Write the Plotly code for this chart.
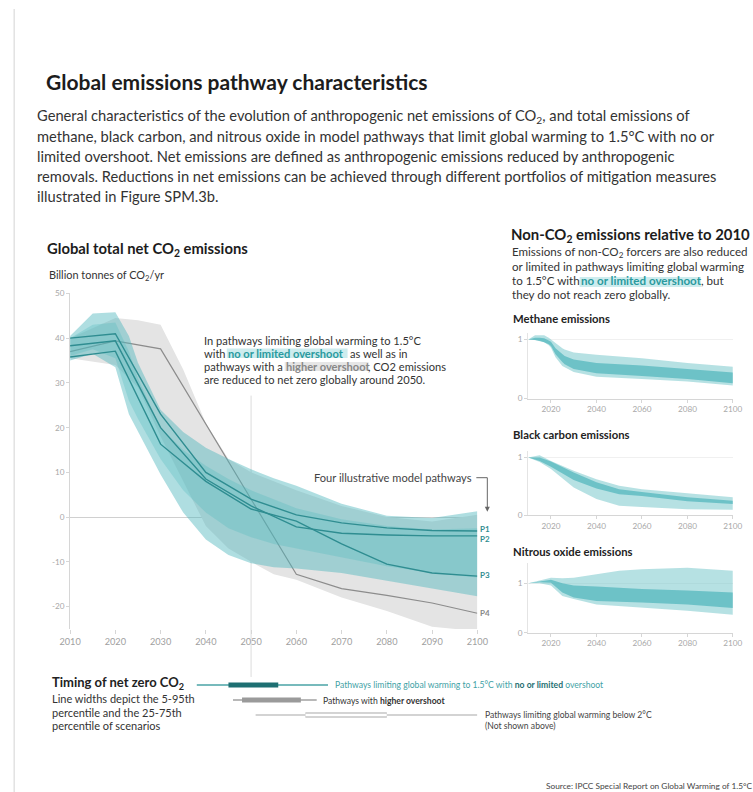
import plotly.graph_objects as go

# Layout is specified in page pixels; the page shows the figure offset and slightly
# scaled, so positions are mapped through that transform.
WF, HF = 764, 798
SX, BX = 0.973, 9.8
SY, BY = 0.986, 5.0
FONT = "Lato"

# ---------------- data ----------------
# Global net CO2 (GtCO2/yr), 1.5°C with no or limited overshoot
band_years = [2010, 2015, 2020, 2023, 2025, 2030, 2035, 2040, 2045, 2050, 2055, 2060, 2070, 2080, 2090, 2100]
nolim_p95 = [40.5, 45.5, 45.8, 40.5, 34.5, 24.0, 19.0, 15.5, 13.0, 10.7, 8.7, 7.0, 3.0, 0.3, -0.2, 1.3]
nolim_p5 = [35.0, 36.5, 33.5, 23.0, 19.0, 9.5, 1.0, -5.0, -8.5, -10.3, -11.2, -11.5, -12.5, -14.3, -16.0, -17.7]
nolim_p75 = [40.0, 43.0, 43.5, 37.0, 31.0, 20.0, 15.0, 11.5, 8.5, 6.0, 4.0, 2.0, -0.5, -2.0, -2.8, -2.5]
nolim_p25 = [36.0, 37.5, 35.5, 26.0, 22.0, 13.0, 6.0, 1.0, -2.5, -4.5, -6.0, -7.0, -9.0, -11.0, -12.5, -13.5]

# Pathways with higher overshoot
high_years = [2010, 2020, 2025, 2030, 2035, 2040, 2045, 2050, 2055, 2060, 2070, 2080, 2090, 2100]
high_p95 = [40.0, 44.5, 44.0, 43.0, 33.0, 21.0, 13.0, 10.0, 8.0, 6.0, 2.5, 0.0, -1.0, 0.5]
high_p5 = [35.5, 34.0, 29.0, 18.0, 8.0, -2.0, -7.0, -10.0, -12.8, -14.0, -18.0, -21.0, -24.5, -25.5]

# Four illustrative model pathways
path_years = [2010, 2020, 2030, 2040, 2050, 2060, 2070, 2080, 2090, 2100]
P1 = [40.0, 41.0, 23.0, 10.0, 4.0, 0.5, -1.3, -2.4, -3.0, -3.1]
P2 = [38.3, 39.4, 20.0, 8.5, 2.5, -2.2, -3.6, -4.0, -4.2, -4.2]
P3 = [35.8, 37.1, 16.3, 8.0, 1.8, -0.9, -6.0, -10.5, -12.5, -13.2]
P4 = [37.0, 39.4, 37.6, 20.8, 4.0, -12.8, -16.0, -17.5, -19.2, -21.5]
path_names = ["P1", "P2", "P3", "P4"]

# Non-CO2 emissions relative to 2010
methane_years = [2010, 2013, 2015, 2017, 2019, 2020, 2022, 2025, 2026, 2030, 2040, 2060, 2080, 2100]
methane_p95 = [1.0, 1.07, 1.07, 1.07, 1.03, 1.0, 0.93, 0.85, 0.83, 0.78, 0.74, 0.68, 0.60, 0.54]
methane_p5 = [1.0, 0.99, 0.98, 0.95, 0.90, 0.86, 0.70, 0.55, 0.52, 0.45, 0.37, 0.33, 0.29, 0.22]
methane_p75 = [1.0, 1.03, 1.03, 1.02, 0.98, 0.96, 0.85, 0.74, 0.72, 0.66, 0.60, 0.56, 0.50, 0.44]
methane_p25 = [1.0, 0.99, 0.97, 0.95, 0.92, 0.89, 0.75, 0.62, 0.58, 0.50, 0.43, 0.38, 0.33, 0.26]

bc_years = [2010, 2015, 2020, 2030, 2040, 2050, 2060, 2080, 2100]
bc_p95 = [1.0, 1.04, 0.94, 0.77, 0.62, 0.51, 0.45, 0.38, 0.31]
bc_p5 = [1.0, 0.92, 0.80, 0.48, 0.28, 0.16, 0.14, 0.10, 0.09]
bc_p75 = [1.0, 1.0, 0.93, 0.74, 0.57, 0.45, 0.40, 0.31, 0.25]
bc_p25 = [1.0, 0.94, 0.84, 0.61, 0.46, 0.36, 0.33, 0.24, 0.19]

n2o_years = [2010, 2015, 2020, 2025, 2030, 2040, 2050, 2060, 2080, 2100]
n2o_p95 = [1.0, 1.06, 1.11, 1.10, 1.11, 1.18, 1.25, 1.28, 1.31, 1.25]
n2o_p5 = [1.0, 1.0, 0.95, 0.74, 0.68, 0.57, 0.53, 0.51, 0.44, 0.36]
n2o_p75 = [1.0, 1.04, 1.07, 1.0, 0.95, 0.93, 0.90, 0.88, 0.85, 0.81]
n2o_p25 = [1.0, 1.02, 1.01, 0.81, 0.71, 0.64, 0.62, 0.61, 0.57, 0.50]

# Timing of net zero CO2 (years): 5-95th and 25-75th percentile
timing_groups = ["no or limited overshoot", "higher overshoot", "below 2°C"]
timing_p5 = [2038, 2046, 2051]
timing_p95 = [2067, 2064.5, 2100]
timing_p25 = [2045, 2048, 2062]
timing_p75 = [2056, 2061, 2080]

main_yticks = [-20, -10, 0, 10, 20, 30, 40, 50]
main_xticks = [2010, 2020, 2030, 2040, 2050, 2060, 2070, 2080, 2090, 2100]
small_xticks = [2020, 2040, 2060, 2080, 2100]

# ---------------- colours ----------------
TEAL_LINE = "#2f8d91"
TEAL_OUTER = "rgba(80,184,190,0.46)"
TEAL_INNER = "rgba(80,184,190,0.30)"
GRAY_BAND = "#e4e4e4"
SMALL_OUTER = "rgba(110,196,200,0.5)"
SMALL_INNER = "rgba(80,182,188,0.72)"
AX = "#d6d6d6"
TICKF = dict(family=FONT, size=9.2, color="#a0a0a0")


def px(x):
    """page column -> paper x"""
    return (x - BX) / SX / WF


def py(y):
    """page row -> paper y"""
    return 1 - (y - BY) / SY / HF


def band(x, hi, lo, color, xa, ya):
    return go.Scatter(x=list(x) + list(x)[::-1], y=list(hi) + list(lo)[::-1],
                      fill="toself", fillcolor=color, mode="lines",
                      line=dict(width=0), hoverinfo="skip", showlegend=False,
                      xaxis=xa, yaxis=ya)


fig = go.Figure()

# main panel
fig.add_trace(band(high_years, high_p95, high_p5, GRAY_BAND, "x", "y"))
fig.add_trace(go.Scatter(x=path_years, y=P4, mode="lines", line=dict(color="#8c8c8c", width=1.2),
                         showlegend=False, hoverinfo="skip", xaxis="x", yaxis="y"))
fig.add_trace(band(band_years, nolim_p95, nolim_p5, TEAL_OUTER, "x", "y"))
fig.add_trace(band(band_years, nolim_p75, nolim_p25, TEAL_INNER, "x", "y"))
for series in (P1, P2, P3):
    fig.add_trace(go.Scatter(x=path_years, y=series, mode="lines", line=dict(color=TEAL_LINE, width=1.4),
                             showlegend=False, hoverinfo="skip", xaxis="x", yaxis="y"))

# small panels
small = [
    (methane_years, methane_p95, methane_p5, methane_p75, methane_p25, "x2", "y2"),
    (bc_years, bc_p95, bc_p5, bc_p75, bc_p25, "x3", "y3"),
    (n2o_years, n2o_p95, n2o_p5, n2o_p75, n2o_p25, "x4", "y4"),
]
for yrs, hi, lo, q3, q1, xa, ya in small:
    fig.add_trace(band(yrs, hi, lo, SMALL_OUTER, xa, ya))
    fig.add_trace(band(yrs, q3, q1, SMALL_INNER, xa, ya))

# timing of net zero bars
rows = [1, 2, 3]
thin_cols = ["#4aa3a6", "#a0a0a0", "#c4c4c4"]
thick_cols = ["#1e6f72", "#9a9a9a", "#a8a8a8"]
for i, r in enumerate(rows):
    fig.add_trace(go.Scatter(x=[timing_p5[i], timing_p95[i]], y=[r, r], mode="lines",
                             line=dict(color=thin_cols[i], width=1.4), showlegend=False,
                             hoverinfo="skip", xaxis="x5", yaxis="y5"))
    fig.add_trace(go.Scatter(x=[timing_p25[i], timing_p75[i]], y=[r, r], mode="lines",
                             line=dict(color=thick_cols[i], width=5), showlegend=False,
                             hoverinfo="skip", xaxis="x5", yaxis="y5"))
# hollow interquartile bar for the 2°C pathways
fig.add_trace(go.Scatter(x=[timing_p25[2], timing_p75[2]], y=[rows[2], rows[2]], mode="lines",
                         line=dict(color="white", width=3), showlegend=False,
                         hoverinfo="skip", xaxis="x5", yaxis="y5"))

# ---------------- axes ----------------
main_dom_x = [px(69), px(477)]
small_dom_x = [px(528), px(733)]

fig.update_layout(
    xaxis=dict(domain=main_dom_x, range=[2010, 2100], tickvals=main_xticks,
               ticks="outside", ticklen=4, tickcolor=AX, showline=False, showgrid=False,
               zeroline=False, tickfont=TICKF, anchor="y", fixedrange=True),
    yaxis=dict(domain=[py(628), py(293)], range=[-25, 50], tickvals=main_yticks,
               ticktext=[str(v) for v in main_yticks],
               ticks="outside", ticklen=3, tickcolor=AX, showline=True, linecolor=AX,
               showgrid=False, zeroline=True, zerolinecolor="#d0d0d0", zerolinewidth=1,
               tickfont=dict(family=FONT, size=8.2, color="#a8a8a8"), anchor="x"),
)

small_y = [
    ("xaxis2", "yaxis2", "y2", "x2", 398, 333, 1.1),
    ("xaxis3", "yaxis3", "y3", "x3", 514.3, 450.5, 1.11),
    ("xaxis4", "yaxis4", "y4", "x4", 631.7, 562, 1.41),
]
for xk, yk, yanc, xanc, bot, top, ymax in small_y:
    fig.update_layout(**{
        xk: dict(domain=small_dom_x, range=[2010, 2100], tickvals=small_xticks, ticks="outside",
                 ticklen=3, tickcolor=AX, showline=True, linecolor=AX, showgrid=False,
                 zeroline=False, tickfont=dict(family=FONT, size=8.2, color="#a8a8a8"), anchor=yanc),
        yk: dict(domain=[py(bot), py(top)], range=[0, ymax], tickvals=[0, 1], ticks="outside",
                 ticklen=3, tickcolor=AX, showline=True, linecolor="#e4e4e4", showgrid=True,
                 gridcolor="#f0f0f0", zeroline=False,
                 tickfont=dict(family=FONT, size=8.2, color="#a8a8a8"), anchor=xanc),
    })

fig.update_layout(
    xaxis5=dict(domain=main_dom_x, range=[2010, 2100], visible=False, anchor="y5"),
    yaxis5=dict(domain=[py(729), py(669)], range=[4, 0], visible=False, anchor="x5"),
)

# ---------------- shapes ----------------
shapes = []
# page rule on the left
shapes.append(dict(type="line", xref="paper", yref="paper", x0=px(13), x1=px(13), y0=py(9), y1=0,
                   line=dict(color="#e2e2e2", width=1.5)))
# 2050 guide from the annotation down to the timing bars
x2050 = main_dom_x[0] + (2050 - 2010) / 90 * (main_dom_x[1] - main_dom_x[0])
shapes.append(dict(type="line", xref="paper", yref="paper", x0=x2050, x1=x2050, y0=py(676), y1=py(395),
                   line=dict(color="#dcdcdc", width=1), layer="below"))
# highlight marks behind emphasised phrases
for x0, x1, y0, y1, c in [(226, 347, 348, 357.5, "#cdecee"), (284, 368, 361.5, 370.5, "#e6e6e6"),
                          (579.5, 701, 276.5, 286.5, "#cdecee")]:
    shapes.append(dict(type="rect", xref="paper", yref="paper", x0=px(x0), x1=px(x1), y0=py(y1), y1=py(y0),
                       fillcolor=c, line=dict(width=0), layer="below"))
# bracket pointing to the four pathways
shapes.append(dict(type="path", xref="paper", yref="paper",
                   path=f"M {px(476)},{py(477)} L {px(487)},{py(477)} L {px(487)},{py(507)}",
                   line=dict(color="#666", width=1)))
shapes.append(dict(type="path", xref="paper", yref="paper",
                   path=f"M {px(484.5)},{py(506)} L {px(489.5)},{py(506)} L {px(487)},{py(511)} Z",
                   fillcolor="#666", line=dict(width=0)))
fig.update_layout(shapes=shapes)

# ---------------- text ----------------
ann = []


def label(x, y, text, size=11, color="#333", anchor="left", family=FONT):
    ann.append(dict(x=px(x), y=py(y), xref="paper", yref="paper", text=text, showarrow=False,
                    xanchor=anchor, yanchor="middle", borderpad=0, borderwidth=0,
                    font=dict(size=size, color=color, family=family)))


label(45, 81, "<b>Global emissions pathway characteristics</b>", 21, "#1c1c1c")
para = [
    "General characteristics of the evolution of anthropogenic net emissions of CO<sub>2</sub>, and total emissions of",
    "methane, black carbon, and nitrous oxide in model pathways that limit global warming to 1.5°C with no or",
    "limited overshoot. Net emissions are defined as anthropogenic emissions reduced by anthropogenic",
    "removals. Reductions in net emissions can be achieved through different portfolios of mitigation measures",
    "illustrated in Figure SPM.3b.",
]
for i, line in enumerate(para):
    label(36, 116 + 20 * i, line, 14.7, "#333")

label(46, 249, "<b>Global total net CO<sub>2</sub> emissions</b>", 14.8, "#1c1c1c")
label(48, 275, "Billion tonnes of CO<sub>2</sub>/yr", 10.9, "#333")

# main annotation
TEAL_TXT = "#2a9a9e"
AS = 11.1
label(203, 340, "In pathways limiting global warming to 1.5°C", AS, "#333")
label(203, 353, "with", AS, "#333")
label(227, 353, "<b>no or limited overshoot</b>", AS, TEAL_TXT)
label(349, 353, "as well as in", AS, "#333")
label(203, 366, "pathways with a", AS, "#333")
label(285, 366, "<b>higher overshoot</b>", AS, "#888")
label(367, 366, ", CO2 emissions", AS, "#333")
label(203, 379, "are reduced to net zero globally around 2050.", AS, "#333")

label(472, 477, "Four illustrative model pathways", 11.1, "#444", anchor="right")
for name, yv, c in [("P1", 528, TEAL_LINE), ("P2", 538.5, TEAL_LINE), ("P3", 574, TEAL_LINE), ("P4", 612, "#888")]:
    label(480, yv, f"<b>{name}</b>", 8, c)

# right column
label(511, 235, "<b>Non-CO<sub>2</sub> emissions relative to 2010</b>", 14.9, "#1c1c1c")
RS = 11.6
right_rows = [252.5, 266.5, 280.5, 294.5]
label(512, right_rows[0], "Emissions of non-CO<sub>2</sub> forcers are also reduced", RS, "#333")
label(512, right_rows[1], "or limited in pathways limiting global warming", RS, "#333")
label(512, right_rows[2], "to 1.5°C with", RS, "#333")
label(581, right_rows[2], "<b>no or limited overshoot</b>", RS, TEAL_TXT)
label(701, right_rows[2], ", but", RS, "#333")
label(512, right_rows[3], "they do not reach zero globally.", RS, "#333")
label(513, 318, "<b>Methane emissions</b>", 11.3, "#222")
label(513, 434, "<b>Black carbon emissions</b>", 11.3, "#222")
label(513, 550.5, "<b>Nitrous oxide emissions</b>", 11.3, "#222")

# timing section
label(51, 682, "<b>Timing of net zero CO<sub>2</sub></b>", 13, "#222")
label(51, 697, "Line widths depict the 5-95th", 11, "#333")
label(51, 711, "percentile and the 25-75th", 11, "#333")
label(51, 724.5, "percentile of scenarios", 11, "#333")
label(334, 684, "Pathways limiting global warming to 1.5°C with "
      "<b><span style='color:#1f6f72'>no or limited</span></b> overshoot", 8.6, "#3fa2a6")
label(322, 700, "Pathways with <b>higher overshoot</b>", 8.6, "#333")
label(485, 714, "Pathways limiting global warming below 2°C", 8.6, "#444")
label(485, 725, "(Not shown above)", 8.6, "#444")

label(752, 785, "Source: IPCC Special Report on Global Warming of 1.5°C", 8.3, "#444", anchor="right")

fig.update_layout(
    annotations=ann,
    width=WF, height=HF, autosize=False,
    margin=dict(l=0, r=0, t=0, b=0),
    paper_bgcolor="white", plot_bgcolor="rgba(0,0,0,0)",
    font=dict(family=FONT),
    showlegend=False,
)

fig.write_html("out.html", config={"displayModeBar": False})
